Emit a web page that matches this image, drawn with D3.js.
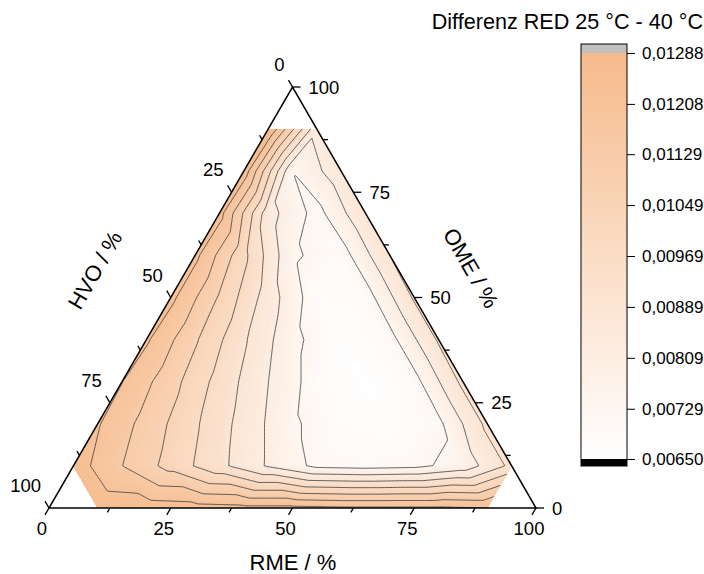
<!DOCTYPE html>
<html>
<head>
<meta charset="utf-8">
<script src="https://cdn.jsdelivr.net/npm/d3@7"></script>
<style>
body { margin: 0; background: #fff; }
svg text { font-family: "Liberation Sans", Arial, sans-serif; fill: #000; }
</style>
</head>
<body>
<svg id="chart" width="704" height="574"></svg>
<script>
// RED difference 25 °C - 40 °C, one row per OME step, column = RME / 10 (%), null = not measured
var omeSteps = [0, 10, 20, 30, 40, 50, 60, 70, 80, 90]
var redRows = [
    [null, 0.0126, 0.0125, 0.0124, 0.0123, 0.0123, 0.0122, 0.0122, 0.0122, 0.0121],
    [0.0125, 0.0113, 0.0102, 0.0091, 0.0080, 0.0071, 0.0070, 0.0071, 0.0076, 0.0091],
    [0.01215, 0.0110, 0.0098, 0.0086, 0.0074, 0.0068, 0.0067, 0.0071, 0.0091],
    [0.0121, 0.0108, 0.0094, 0.0081, 0.0069, 0.0065, 0.0070, 0.0091],
    [0.0122, 0.0106, 0.0090, 0.0075, 0.0066, 0.0070, 0.0090],
    [0.0123, 0.0104, 0.0085, 0.0068, 0.0069, 0.0090],
    [0.0123, 0.0099, 0.0074, 0.0069, 0.0089],
    [0.0124, 0.0084, 0.0070, 0.0088],
    [0.0126, 0.0073, 0.0086],
    [0.01288, 0.0083]
]
var contourLevels = [0.00729, 0.00809, 0.00889, 0.00969, 0.01049, 0.01129, 0.01208]
var barTicks = [0.00650, 0.00729, 0.00809, 0.00889, 0.00969, 0.01049, 0.01129, 0.01208, 0.01288]
var axisTicks = [0, 12.5, 25, 37.5, 50, 62.5, 75, 87.5, 100]
var axisLabels = [0, 25, 50, 75, 100]

var svg = d3.select('#chart')

// horizontal position along the base, vertical = OME share
var scaleX = d3.scaleLinear().domain([0, 1]).range([49, 536])
var scaleY = d3.scaleLinear().domain([0, 1]).range([508, 87])
var colorScale = d3.scaleLinear().domain([0.0065, 0.01288]).range(['#ffffff', '#f6ba8b']).clamp(true)

function project(r, o) {
    return [scaleX(r + o / 2), scaleY(o)]
}

// nearest measured value for every lattice node (used only outside the measured region)
var lookup = []
for (var j = 0; j <= 10; j++) {
    lookup[j] = []
    for (var i = 0; i <= 10; i++) {
        var best = null, bestD = Infinity
        redRows.forEach(function (row, jj) {
            row.forEach(function (v, ii) {
                if (v == null) return
                var dx = (ii + jj / 2) - (i + j / 2), dy = (jj - j) * 0.866
                var d = dx * dx + dy * dy
                if (d < bestD) { bestD = d; best = v }
            })
        })
        lookup[j][i] = best
    }
}

function valueAt(r, o) {
    r = Math.max(0, Math.min(1, r))
    o = Math.max(0, Math.min(1, o))
    var fi = r * 10, fj = o * 10
    var i = Math.min(9, Math.floor(fi)), j = Math.min(9, Math.floor(fj))
    var fr = fi - i, fo = fj - j
    var b = lookup[j][i + 1], c = lookup[j + 1][i]
    if (fr + fo <= 1) {
        var a = lookup[j][i]
        return a + (b - a) * fr + (c - a) * fo
    }
    var d = lookup[j + 1][i + 1]
    return d + (c - d) * (1 - fr) + (b - d) * (1 - fo)
}

var N = 320
var rasterScale = d3.scaleLinear().domain([0.5, N - 0.5]).range([-0.02, 1.02])
var values = new Array(N * N)
for (var y = 0; y < N; y++) {
    for (var x = 0; x < N; x++) {
        values[y * N + x] = valueAt(rasterScale(x + 0.5), rasterScale(y + 0.5))
    }
}

var path = d3.geoPath(d3.geoTransform({
    point: function (x, y) {
        var p = project(rasterScale(x), rasterScale(y))
        this.stream.point(p[0], p[1])
    }
}))

// measured region: every component at most 90 %
var region = [[0.1, 0], [0, 0.1], [0, 0.9], [0.1, 0.9], [0.9, 0.1], [0.9, 0]].map(function (d) {
    return project(d[0], d[1])
})

var defs = svg.append('defs')
defs.append('clipPath').attr('id', 'region')
    .append('polygon').attr('points', region.map(function (p) { return p.join(',') }).join(' '))

var plot = svg.append('g').attr('clip-path', 'url(#region)')
plot.append('polygon')
    .attr('points', region.map(function (p) { return p.join(',') }).join(' '))
    .attr('fill', '#ffffff')

var fillLevels = d3.range(0.0062, 0.0130, 0.0001)
plot.selectAll('path.band')
    .data(d3.contours().size([N, N]).thresholds(fillLevels)(values))
    .enter().append('path')
    .attr('class', 'band')
    .attr('d', path)
    .attr('fill', function (d) { return colorScale(d.value + 0.00005) })
    .attr('stroke', function (d) { return colorScale(d.value + 0.00005) })
    .attr('stroke-width', 0.3)

plot.selectAll('path.line')
    .data(d3.contours().size([N, N]).thresholds(contourLevels)(values))
    .enter().append('path')
    .attr('class', 'line')
    .attr('d', path)
    .attr('fill', 'none')
    .attr('stroke', '#3a3a3a')
    .attr('stroke-width', 0.8)

// triangle frame
var L = project(0, 0), R = project(1, 0), T = project(0, 1)
svg.append('polygon')
    .attr('points', [L, R, T].map(function (p) { return p.join(',') }).join(' '))
    .attr('fill', 'none')
    .attr('stroke', '#000')
    .attr('stroke-width', 1.5)

var frame = svg.append('g').attr('stroke', '#000').attr('stroke-width', 1.3)
var labels = svg.append('g').attr('font-size', 18.5)

axisTicks.forEach(function (t) {
    var f = t / 100
    var len = axisLabels.indexOf(t) >= 0 ? 8 : 5
    // RME along the bottom, ticks parallel to the left side
    var pb = project(f, 0)
    frame.append('line').attr('x1', pb[0]).attr('y1', pb[1])
        .attr('x2', pb[0] - 0.5 * len).attr('y2', pb[1] + 0.866 * len)
    // HVO along the left side (0 at top)
    var pl = project(0, 1 - f)
    frame.append('line').attr('x1', pl[0]).attr('y1', pl[1])
        .attr('x2', pl[0] - 0.5 * len).attr('y2', pl[1] - 0.866 * len)
    // OME along the right side (0 at bottom right)
    var pr = project(1 - f, f)
    frame.append('line').attr('x1', pr[0]).attr('y1', pr[1])
        .attr('x2', pr[0] + len).attr('y2', pr[1])
})

axisLabels.forEach(function (t) {
    var f = t / 100
    var pb = project(f, 0)
    labels.append('text').attr('x', pb[0] - 7).attr('y', pb[1] + 27)
        .attr('text-anchor', 'middle').text(t)
    var pl = project(0, 1 - f)
    labels.append('text').attr('x', pl[0] - 8).attr('y', pl[1] - 16)
        .attr('text-anchor', 'end').text(t)
    var pr = project(1 - f, f)
    labels.append('text').attr('x', pr[0] + 16).attr('y', pr[1] + 6.5)
        .attr('text-anchor', 'start').text(t)
})

var titles = svg.append('g').attr('font-size', 22).attr('text-anchor', 'middle')
titles.append('text').attr('x', 293).attr('y', 570).text('RME / %')
titles.append('text').attr('transform', 'translate(95,270) rotate(-60)').attr('dy', '0.35em').text('HVO / %')
titles.append('text').attr('transform', 'translate(471,268) rotate(60)').attr('dy', '0.35em').text('OME / %')

// colour bar
var barScale = d3.scaleLinear().domain([0.0065, 0.01288]).range([459, 53])
var grad = defs.append('linearGradient').attr('id', 'bar')
    .attr('x1', 0).attr('y1', 1).attr('x2', 0).attr('y2', 0)
grad.selectAll('stop').data(barTicks).enter().append('stop')
    .attr('offset', function (d) { return (d - 0.0065) / (0.01288 - 0.0065) })
    .attr('stop-color', function (d) { return colorScale(d) })

var bx = 581, bw = 46
svg.append('rect').attr('x', bx).attr('y', 44).attr('width', bw).attr('height', barScale(0.01288) - 44).attr('fill', '#c0c0c0')
svg.append('rect').attr('x', bx).attr('y', barScale(0.01288)).attr('width', bw)
    .attr('height', barScale(0.0065) - barScale(0.01288)).attr('fill', 'url(#bar)')
svg.append('rect').attr('x', bx).attr('y', barScale(0.0065)).attr('width', bw).attr('height', 466 - barScale(0.0065)).attr('fill', '#000')
svg.append('rect').attr('x', bx).attr('y', 44).attr('width', bw).attr('height', 422)
    .attr('fill', 'none').attr('stroke', '#000').attr('stroke-width', 1)

var barAxis = svg.append('g').attr('transform', 'translate(' + (bx + bw) + ',0)')
    .call(d3.axisRight(barScale).tickValues(barTicks).tickSize(8).tickPadding(7)
        .tickFormat(function (d) { return d.toFixed(5).replace('.', ',') }))
barAxis.select('.domain').remove()
barAxis.selectAll('text').attr('font-size', 17).attr('font-family', '"Liberation Sans", Arial, sans-serif')
barAxis.selectAll('line').attr('stroke', '#000')

svg.append('text').attr('x', 703).attr('y', 29).attr('text-anchor', 'end')
    .attr('font-size', 21.6).text('Differenz RED 25 °C - 40 °C')
</script>
</body>
</html>
